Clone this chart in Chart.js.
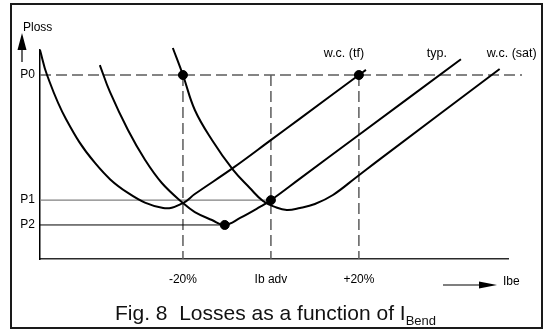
<!DOCTYPE html>
<html>
<head>
<meta charset="utf-8">
<script src="https://cdn.jsdelivr.net/npm/chart.js@4.4.1/dist/chart.umd.min.js"></script>
<style>
  body { margin: 0; background: #fff; }
  #wrap { position: relative; width: 547px; height: 332px; font-family: 'Liberation Sans', Arial, sans-serif; }
  #frame { position: absolute; left: 10px; top: 3px; width: 529px; height: 322px; border: 2px solid #1a1a1a; pointer-events: none; }
  #titulo { position: absolute; left: 115px; top: 302px; font-size: 21px; line-height: 21px; color: #111; white-space: pre; }
  #titulo sub { font-size: 13px; vertical-align: -5px; line-height: 0; }
</style>
</head>
<body>
<div id="wrap">
  <canvas id="lossChart" width="547" height="332"></canvas>
  <div id="frame"></div>
  <div id="titulo">Fig. 8  Losses as a function of I<sub>Bend</sub></div>
</div>
<script>
// x = desvio de Ib em relação a Ib adv (%), y = Ploss relativo (P0 = 100)
const wcTfX = [-52.5, -50.9, -46.6, -40.0, -32.5, -24.5, -20, -17.3, -8.6, 0.2, 6.6, 20, 21.6];
const wcTfY = [113.6, 100, 76.1, 52.2, 35.9, 27.7, 30.4, 35.3, 49.5, 65.0, 76.3, 100, 102.8];

const typX = [-38.9, -36.6, -32.5, -28.6, -24.8, -20, -17.3, -13.4, -10.5, -7.0, -2.5, 0, 6.6, 19.5, 43.2];
const typY = [105.4, 90.8, 70.1, 53.8, 41.3, 30.4, 25.5, 21.2, 18.5, 22.3, 28.3, 32, 43.7, 66.6, 108.6];

const wcSatX = [-22.3, -20, -17.3, -13.4, -8.6, -4.8, -1.8, 0.9, 3.6, 6.6, 10.0, 14.1, 19.5, 24.8, 52.0];
const wcSatY = [114.7, 100, 81.0, 64.7, 48.4, 38.6, 31.5, 28.3, 26.6, 27.7, 29.9, 34.8, 44.6, 54.3, 103.3];

const pontosX = [-20, 20, 0, -10.5];
const pontosY = [100, 100, 32, 18.5];

const nivelNomes = ['P0', 'P1', 'P2'];
const nivelValores = [100, 32, 18.5];

const xTicks = [-20, 0, 20];
const xTickLabels = ['-20%', 'Ib adv', '+20%'];

const curvaNomes = ['w.c. (tf)', 'typ.', 'w.c. (sat)'];

(function () {
    const paleta = {
        preto: '#000',
        tracejado: '#5c5c5c',
        cinza: '#808080',
        eixo: '#2a2a2a'
    }

    const fonte = "'Liberation Sans', Arial, sans-serif";
    Chart.defaults.font.family = fonte;
    Chart.defaults.font.size = 12;
    Chart.defaults.color = '#000';

    const pares = (xs, ys) => xs.map((x, i) => ({ x: x, y: ys[i] }));

    const curva = (nome, xs, ys) => ({
        type: 'line',
        label: nome,
        data: pares(xs, ys),
        borderColor: paleta.preto,
        borderWidth: 2,
        pointRadius: 0,
        tension: 0.4,
        fill: false,
        clip: false
    });

    // deslocamento dos rotulos em relacao ao fim de cada curva
    const rotuloDx = [-22, -24, 12];

    const desenhos = {
        id: 'desenhos',
        beforeDatasetsDraw(chart) {
            const { ctx, chartArea: a, scales: { x, y } } = chart;
            const y0 = y.getPixelForValue(nivelValores[0]);
            const yBase = y.getPixelForValue(0);
            ctx.save();
            // tracejados
            ctx.lineWidth = 1.5;
            ctx.strokeStyle = paleta.tracejado;
            ctx.setLineDash([11, 5]);
            ctx.beginPath();
            ctx.moveTo(a.left, y0);
            ctx.lineTo(a.right + 14, y0);
            xTicks.forEach(v => {
                const px = x.getPixelForValue(v);
                ctx.moveTo(px, y0);
                ctx.lineTo(px, yBase);
            });
            ctx.stroke();
            ctx.setLineDash([]);
            // P1 ate o ponto typ. em Ib adv
            ctx.lineWidth = 1.2;
            ctx.strokeStyle = paleta.cinza;
            ctx.beginPath();
            ctx.moveTo(a.left, y.getPixelForValue(nivelValores[1]));
            ctx.lineTo(x.getPixelForValue(pontosX[2]), y.getPixelForValue(nivelValores[1]));
            ctx.stroke();
            // P2 ate o minimo de typ.
            ctx.strokeStyle = paleta.preto;
            ctx.lineWidth = 1;
            ctx.beginPath();
            ctx.moveTo(a.left, y.getPixelForValue(nivelValores[2]));
            ctx.lineTo(x.getPixelForValue(pontosX[3]), y.getPixelForValue(nivelValores[2]));
            ctx.stroke();
            ctx.restore();
        },
        afterDatasetsDraw(chart) {
            const { ctx, chartArea: a, scales: { x } } = chart;
            ctx.save();
            ctx.fillStyle = paleta.preto;
            ctx.strokeStyle = paleta.preto;
            ctx.textBaseline = 'middle';

            // rotulos das curvas
            ctx.font = '12.5px ' + fonte;
            ctx.textAlign = 'center';
            const finais = [wcTfX, typX, wcSatX];
            finais.forEach((xs, i) => {
                ctx.fillText(curvaNomes[i], x.getPixelForValue(xs[xs.length - 1]) + rotuloDx[i], a.top + 4);
            });

            // seta e titulo do eixo y
            ctx.font = '12px ' + fonte;
            ctx.textAlign = 'left';
            ctx.fillText('Ploss', 23, 28);
            ctx.lineWidth = 1.2;
            ctx.beginPath();
            ctx.moveTo(22, 62);
            ctx.lineTo(22, 48);
            ctx.stroke();
            ctx.beginPath();
            ctx.moveTo(22, 33);
            ctx.lineTo(26.5, 50);
            ctx.lineTo(17.5, 50);
            ctx.closePath();
            ctx.fill();

            // seta e titulo do eixo x
            ctx.beginPath();
            ctx.moveTo(443, 285);
            ctx.lineTo(482, 285);
            ctx.stroke();
            ctx.beginPath();
            ctx.moveTo(497, 285);
            ctx.lineTo(479, 281.5);
            ctx.lineTo(479, 288.5);
            ctx.closePath();
            ctx.fill();
            ctx.fillText('Ibe', 503, 282);
            ctx.restore();
        }
    };

    const grafico = document.getElementById('lossChart');
    if (grafico) {
        new Chart(grafico, {
            type: 'line',
            data: {
                datasets: [
                    curva(curvaNomes[0], wcTfX, wcTfY),
                    curva(curvaNomes[1], typX, typY),
                    curva(curvaNomes[2], wcSatX, wcSatY),
                    {
                        type: 'scatter',
                        label: 'pontos',
                        data: pares(pontosX, pontosY),
                        showLine: false,
                        pointRadius: 4.5,
                        pointBackgroundColor: paleta.preto,
                        pointBorderColor: paleta.preto,
                        clip: false
                    }
                ]
            },
            options: {
                responsive: false,
                animation: false,
                events: [],
                layout: { padding: { top: 50, right: 39, left: 0, bottom: 0 } },
                plugins: {
                    legend: { display: false },
                    tooltip: { enabled: false }
                },
                scales: {
                    x: {
                        type: 'linear',
                        min: -52.5,
                        max: 53.9,
                        grid: { display: false, drawTicks: false },
                        border: { display: true, color: paleta.eixo, width: 1.5 },
                        afterBuildTicks: s => { s.ticks = xTicks.map(v => ({ value: v })); },
                        ticks: {
                            padding: 13,
                            maxRotation: 0,
                            autoSkip: false,
                            color: '#000',
                            callback: (v, i) => xTickLabels[i]
                        },
                        afterFit: s => { s.height = 73; }
                    },
                    y: {
                        type: 'linear',
                        min: 0,
                        max: 113.6,
                        grid: { display: false, drawTicks: false },
                        border: { display: true, color: paleta.preto, width: 1.5 },
                        afterBuildTicks: s => { s.ticks = nivelValores.map(v => ({ value: v })); },
                        ticks: {
                            padding: 5,
                            autoSkip: false,
                            color: '#000',
                            callback: (v, i) => nivelNomes[i]
                        },
                        afterFit: s => { s.width = 40; }
                    }
                }
            },
            plugins: [desenhos]
        })
    }
})();
</script>
</body>
</html>
